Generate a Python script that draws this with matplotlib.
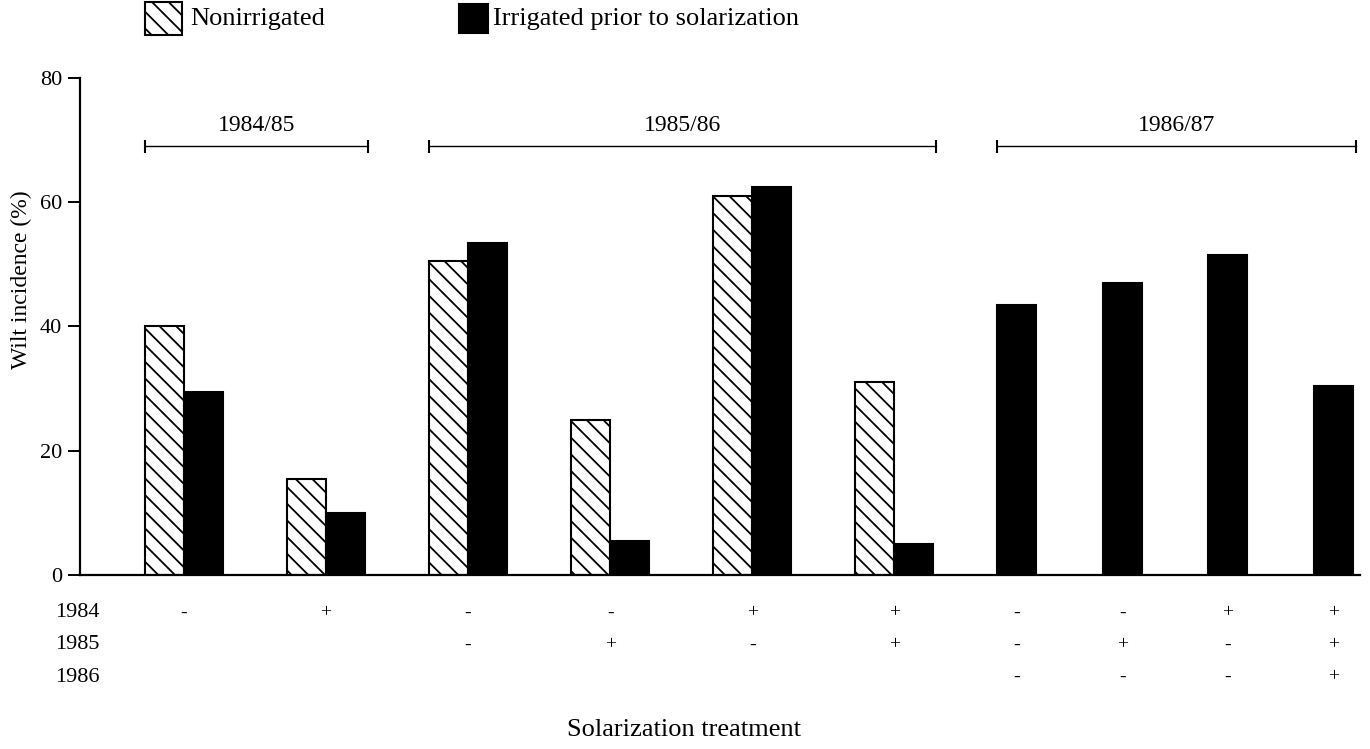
import numpy as np
import matplotlib
matplotlib.use('Agg')
import matplotlib.pyplot as plt
from matplotlib.patches import Rectangle
from matplotlib.transforms import blended_transform_factory

plt.rcParams['font.family'] = ['Liberation Serif', 'DejaVu Serif']
plt.rcParams['hatch.linewidth'] = 1.3

# Solarization history of each plot ('' = year not part of that trial)
year_rows = ['1984', '1985', '1986']
sol_1984 = ['-', '+', '-', '-', '+', '+', '-', '-', '+', '+']
sol_1985 = ['', '', '-', '+', '-', '+', '-', '+', '-', '+']
sol_1986 = ['', '', '', '', '', '', '-', '-', '-', '+']

# Wilt incidence (%), None where the nonirrigated plot was not sown
nonirrigated = [40, 15.5, 50.5, 25, 61, 31, None, None, None, None]
irrigated = [29.5, 10, 53.5, 5.5, 62.5, 5, 43.5, 47, 51.5, 30.5]

# seasons and the first/last treatment index they cover
seasons = ['1984/85', '1985/86', '1986/87']
season_span = [(0, 1), (2, 5), (6, 9)]


def main():
    fig = plt.figure(figsize=(13.7, 7.49), dpi=100)
    ax = fig.add_axes([0.0584, 0.2323, 0.9343, 0.6636])

    # paired groups are spaced 1 apart, single-bar groups sit closer together
    pos = np.r_[np.arange(6), 5.86 + 0.745 * np.arange(4)]
    w = 0.275
    paired = np.array([v is not None for v in nonirrigated])

    ax.bar(pos[paired] - w / 2, [v for v in nonirrigated if v is not None], w,
           color='white', edgecolor='black', hatch='\\\\', linewidth=1.5)
    ax.bar(np.where(paired, pos + w / 2, pos), irrigated, w,
           color='black', edgecolor='black', linewidth=1.5)

    # season brackets above the bars
    left = np.where(paired, pos - w, pos - w / 2)
    right = np.where(paired, pos + w, pos + w / 2)
    yb = 69
    for name, (a, b) in zip(seasons, season_span):
        x0, x1 = left[a], right[b] + 0.02
        ax.plot([x0, x1], [yb, yb], color='black', lw=1.0)
        ax.vlines([x0, x1], yb - 1.0, yb + 1.0, color='black', lw=1.5)
        ax.text((x0 + x1) / 2, yb + 1.6, name, ha='center', va='bottom', fontsize=17)

    ax.set_xlim(-0.732, 8.28)
    ax.set_ylim(0, 80)
    ax.set_yticks([0, 20, 40, 60, 80])
    ax.set_xticks([])
    ax.tick_params(axis='y', length=9, width=1.4, labelsize=16, pad=4)
    for s in ['top', 'right']:
        ax.spines[s].set_visible(False)
    for s in ['left', 'bottom']:
        ax.spines[s].set_linewidth(1.6)

    fig.text(0.016, 0.626, 'Wilt incidence (%)', rotation=90,
             ha='center', va='center', fontsize=17)

    # treatment table under the axis
    tr = blended_transform_factory(ax.transData, fig.transFigure)
    row_y = [0.1816, 0.1389, 0.0961]
    for label, marks, y in zip(year_rows, [sol_1984, sol_1985, sol_1986], row_y):
        fig.text(0.040, y, label, ha='left', va='center', fontsize=16)
        for x, m in zip(pos, marks):
            if m:
                ax.text(x, y, m, transform=tr, ha='center', va='center',
                        fontsize=14, clip_on=False)

    fig.text(0.499, 0.025, 'Solarization treatment', ha='center', va='center', fontsize=19)

    # legend drawn as boxes on the figure
    fig.add_artist(Rectangle((0.1058, 0.953), 0.027, 0.044, transform=fig.transFigure,
                             facecolor='white', edgecolor='black', hatch='\\\\', lw=1.5))
    fig.text(0.139, 0.975, 'Nonirrigated', ha='left', va='center', fontsize=19)
    fig.add_artist(Rectangle((0.335, 0.956), 0.021, 0.038, transform=fig.transFigure,
                             facecolor='black', edgecolor='black', lw=1.5))
    fig.text(0.360, 0.975, 'Irrigated prior to solarization', ha='left', va='center', fontsize=19)

    fig.savefig('out.png', dpi=100)


if __name__ == "__main__":
    main()
